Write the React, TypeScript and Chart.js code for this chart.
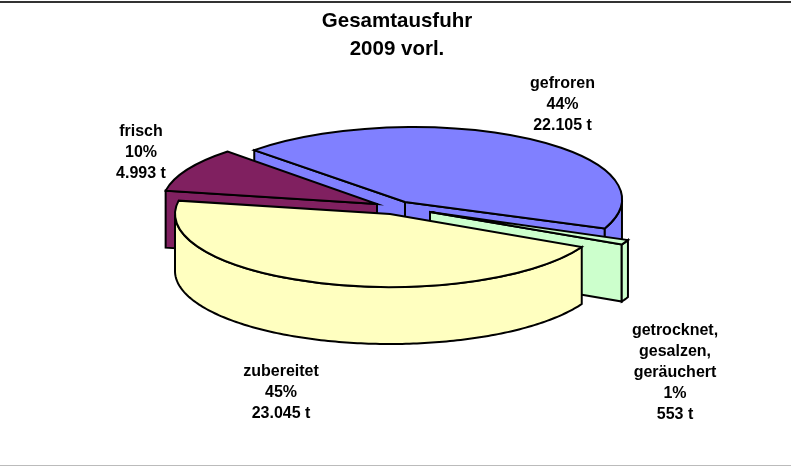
import { useEffect, useRef } from "react";
import { Chart, registerables } from "chart.js";

Chart.register(...registerables);

const titleLines = ["Gesamtausfuhr", "2009 vorl."];
const categories = ["gefroren", "getrocknet,\ngesalzen,\ngeräuchert", "zubereitet", "frisch"];
const tonnes = [22105, 553, 23045, 4993];
const percents = [44, 1, 45, 10];
const colors = ["#8080FF", "#CCFFCC", "#FFFFC0", "#802060"];

const ROTATION = -44;
const DEPTH = 57;
const FONT = "'Liberation Sans', Arial, sans-serif";

// on-screen placement of each exploded slice: ellipse centre, radii, tilt
const placement = [
  { cx: 405, cy: 202, rx: 217, ry: 75, tilt: -3 },
  { cx: 430, cy: 212, rx: 215, ry: 72, tilt: 0 },
  { cx: 390, cy: 214, rx: 215, ry: 73, tilt: 0 },
  { cx: 377, cy: 204, rx: 215, ry: 73, tilt: 0 },
];
const labelAnchors = [
  { x: 562.5, y: 83.5, step: 21 },
  { x: 675, y: 331, step: 21 },
  { x: 281, y: 372, step: 21 },
  { x: 141, y: 132, step: 21 },
];
const drawOrder = [0, 3, 1, 2];

const pie3d = {
  id: "pie3d",
  beforeDatasetsDraw(chart: any) {
    const ctx = chart.ctx as CanvasRenderingContext2D;
    const arcs = chart.getDatasetMeta(0).data;
    ctx.lineWidth = 2;
    ctx.strokeStyle = "#000";
    ctx.lineJoin = "miter";
    for (const i of drawOrder) {
      const arc = arcs[i];
      const p = placement[i];
      const s = arc.startAngle as number;
      const e = arc.endAngle as number;
      const pt = (phi: number, dz = 0): [number, number] => [
        p.cx + p.rx * Math.cos(phi),
        p.cy + p.tilt * Math.cos(phi) + p.ry * Math.sin(phi) + dz,
      ];
      ctx.fillStyle = colors[i];

      const quad = (phi: number) => {
        const c = pt(phi);
        ctx.beginPath();
        ctx.moveTo(p.cx, p.cy);
        ctx.lineTo(c[0], c[1]);
        ctx.lineTo(c[0], c[1] + DEPTH);
        ctx.lineTo(p.cx, p.cy + DEPTH);
        ctx.closePath();
        ctx.fill();
        ctx.stroke();
      };
      if (-Math.cos(s) > 0) quad(s);
      if (Math.cos(e) > 0) quad(e);

      // outer rim: only the part that faces the viewer
      const steps = Math.max(2, Math.ceil(((e - s) * 180) / Math.PI));
      const visible: number[] = [];
      for (let k = 0; k <= steps; k++) {
        const phi = s + ((e - s) * k) / steps;
        if (Math.sin(phi) >= 0) visible.push(phi);
      }
      if (visible.length > 1) {
        ctx.beginPath();
        visible.forEach((phi, k) => {
          const c = pt(phi);
          if (k === 0) ctx.moveTo(c[0], c[1]);
          else ctx.lineTo(c[0], c[1]);
        });
        [...visible].reverse().forEach((phi) => {
          const c = pt(phi, DEPTH);
          ctx.lineTo(c[0], c[1]);
        });
        ctx.closePath();
        ctx.fill();
        ctx.stroke();
      }

      // top face, drawn by the arc element itself through an affine squash
      const R = arc.outerRadius as number;
      ctx.save();
      ctx.translate(p.cx, p.cy);
      ctx.transform(p.rx / R, p.tilt / R, 0, p.ry / R, 0, 0);
      ctx.translate(-arc.x, -arc.y);
      arc.draw(ctx);
      ctx.beginPath();
      ctx.moveTo(arc.x, arc.y);
      ctx.arc(arc.x, arc.y, R, s, e);
      ctx.closePath();
      ctx.restore();
      ctx.stroke();
    }
    return false;
  },
  afterDraw(chart: any) {
    const ctx = chart.ctx as CanvasRenderingContext2D;
    ctx.save();
    ctx.font = `bold 16px ${FONT}`;
    ctx.fillStyle = "#000";
    ctx.textAlign = "center";
    ctx.textBaseline = "middle";
    categories.forEach((name, i) => {
      const lines = [
        ...name.split("\n"),
        `${percents[i]}%`,
        `${tonnes[i].toLocaleString("de-DE")} t`,
      ];
      lines.forEach((l, k) => {
        ctx.fillText(l, labelAnchors[i].x, labelAnchors[i].y + k * labelAnchors[i].step);
      });
    });
    ctx.restore();
  },
};

export default function App() {
  const ref = useRef<HTMLCanvasElement>(null);
  useEffect(() => {
    document.body.style.margin = "0";
    const chart = new Chart(ref.current!, {
      type: "pie",
      data: {
        labels: categories,
        datasets: [{ data: tonnes, backgroundColor: colors, borderWidth: 0 }],
      },
      options: {
        animation: false,
        responsive: false,
        rotation: ROTATION,
        layout: { padding: { left: 3 } },
        plugins: {
          legend: { display: false },
          tooltip: { enabled: false },
          title: {
            display: true,
            text: titleLines,
            color: "#000",
            font: { family: FONT, size: 20.5, weight: "bold", lineHeight: 1.35 },
            padding: { top: 8, bottom: 0 },
          },
        },
      },
      plugins: [pie3d],
    } as any);
    return () => chart.destroy();
  }, []);
  return (
    <div style={{ position: "relative", width: 791, height: 467, overflow: "hidden", background: "#fff" }}>
      <canvas ref={ref} width={791} height={467} style={{ display: "block" }} />
      <div style={{ position: "absolute", left: 0, top: 1, width: 791, height: 2, background: "#333" }} />
      <div style={{ position: "absolute", left: 0, top: 465, width: 791, height: 1, background: "#bbb" }} />
    </div>
  );
}
